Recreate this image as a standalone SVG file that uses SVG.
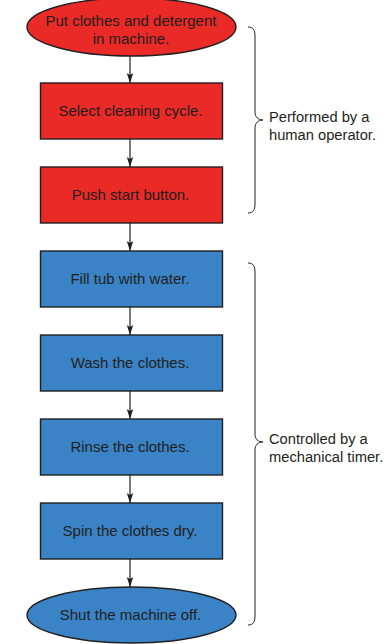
<svg xmlns="http://www.w3.org/2000/svg" width="388" height="644" viewBox="0 0 388 644">
  <style>
    .red { fill: #e92a26; stroke: #231f20; stroke-width: 1.4; }
    .blue { fill: #3983c6; stroke: #231f20; stroke-width: 1.4; }
    .t { font-family: "Liberation Sans", Arial, sans-serif; font-size: 15px; fill: #231f20; text-anchor: middle; }
    .note { font-family: "Liberation Sans", Arial, sans-serif; font-size: 14.7px; fill: #231f20; }
    .conn { stroke: #231f20; stroke-width: 1.2; fill: none; marker-end: url(#arrow); }
    .brace { stroke: #231f20; stroke-width: 1; fill: none; }
  </style>
  <defs>
    <marker id="arrow" viewBox="0 0 10 6" refX="10" refY="3" markerWidth="10" markerHeight="6.5" markerUnits="userSpaceOnUse" orient="auto" preserveAspectRatio="none">
      <path d="M0,0 L10,3 L0,6 L2,3 Z" fill="#231f20"/>
    </marker>
  </defs>
  <rect width="388" height="644" fill="#ffffff"/>

  <!-- connectors -->
  <g id="connectors">
    <line class="conn" x1="130" y1="56" x2="130" y2="83"/>
    <line class="conn" x1="130" y1="139" x2="130" y2="167"/>
    <line class="conn" x1="130" y1="223" x2="130" y2="251"/>
    <line class="conn" x1="130" y1="307" x2="130" y2="335"/>
    <line class="conn" x1="130" y1="391" x2="130" y2="419"/>
    <line class="conn" x1="130" y1="475" x2="130" y2="503"/>
    <line class="conn" x1="130" y1="559" x2="130" y2="587"/>
  </g>

  <!-- steps -->
  <g id="start">
    <ellipse class="red" cx="131.5" cy="27" rx="104.5" ry="29"/>
    <text class="t" x="131" y="26">Put clothes and detergent</text>
    <text class="t" x="131" y="44">in machine.</text>
  </g>
  <g id="select-cycle">
    <rect class="red" x="40.5" y="83" width="182" height="56"/>
    <text class="t" x="130.5" y="116">Select cleaning cycle.</text>
  </g>
  <g id="push-start">
    <rect class="red" x="40.5" y="167" width="182" height="56"/>
    <text class="t" x="130.5" y="200">Push start button.</text>
  </g>
  <g id="fill-tub">
    <rect class="blue" x="40.5" y="251" width="182" height="56"/>
    <text class="t" x="130" y="284">Fill tub with water.</text>
  </g>
  <g id="wash">
    <rect class="blue" x="40.5" y="335" width="182" height="56"/>
    <text class="t" x="130" y="368">Wash the clothes.</text>
  </g>
  <g id="rinse">
    <rect class="blue" x="40.5" y="419" width="182" height="56"/>
    <text class="t" x="130" y="452">Rinse the clothes.</text>
  </g>
  <g id="spin">
    <rect class="blue" x="40.5" y="503" width="182" height="56"/>
    <text class="t" x="130" y="536">Spin the clothes dry.</text>
  </g>
  <g id="stop">
    <ellipse class="blue" cx="131.5" cy="615" rx="104.5" ry="28"/>
    <text class="t" x="130.5" y="620">Shut the machine off.</text>
  </g>

  <!-- grouping braces and notes -->
  <g id="human-brace">
    <path class="brace" d="M248,27 C253,27 255,30 255,36 L255,112 C255,117 258,120 263,120 C258,120 255,123 255,128 L255,204 C255,210 253,213 248,213"/>
    <text class="note" x="269" y="122">Performed by a</text>
    <text class="note" x="269" y="140">human operator.</text>
  </g>
  <g id="timer-brace">
    <path class="brace" d="M248,263 C253,263 255,266 255,272 L255,434 C255,439 258,442 263,442 C258,442 255,445 255,450 L255,616 C255,622 253,625 248,625"/>
    <text class="note" x="269" y="444">Controlled by a</text>
    <text class="note" x="269" y="462">mechanical timer.</text>
  </g>
</svg>
